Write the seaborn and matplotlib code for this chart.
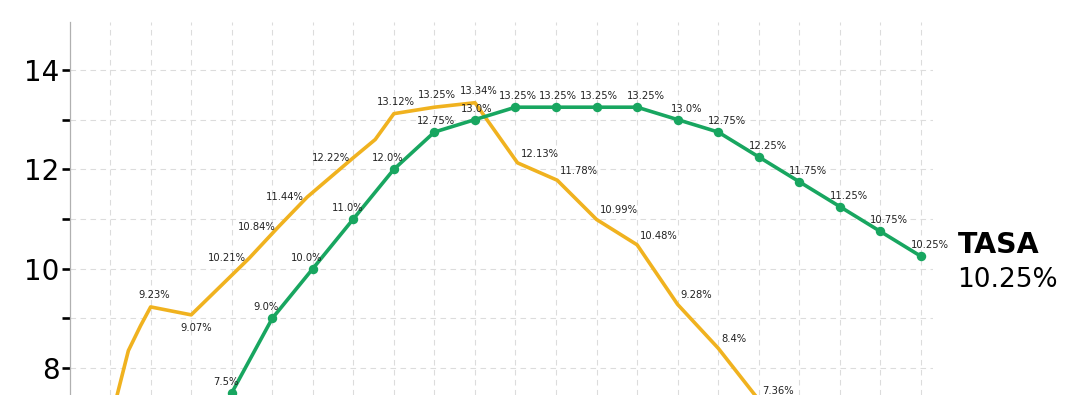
import numpy as np
import pandas as pd
import matplotlib
matplotlib.use("Agg")
import matplotlib.pyplot as plt
import seaborn as sns
from matplotlib.ticker import FixedLocator, NullFormatter

# ---------------- data ----------------
green_period = [2, 3, 4, 5, 6, 7, 8, 9, 10, 11, 12, 13, 14, 15, 16, 17, 18, 19, 20]
green_rate = [6.0, 7.5, 9.0, 10.0, 11.0, 12.0, 12.75, 13.0, 13.25, 13.25, 13.25,
              13.25, 13.0, 12.75, 12.25, 11.75, 11.25, 10.75, 10.25]

yellow_period = [0.0, 0.45, 0.75, 1.0, 2.0, 3.43, 4.15, 4.86, 5.98, 6.54, 7.0, 8.0,
                 9.0, 10.05, 11.03, 12.0, 13.0, 14.0, 15.0, 16.0, 17.0, 18.0]
yellow_value = [6.9, 8.35, 8.85, 9.23, 9.07, 10.21, 10.84, 11.44, 12.22, 12.6, 13.12,
                13.25, 13.34, 12.13, 11.78, 10.99, 10.48, 9.28, 8.4, 7.36, 7.16, 7.18]
yellow_labeled = [False, False, False, True, True, True, True, True, True, False, True,
                  True, True, True, True, True, True, True, True, True, True, True]

major_ticks = [8, 10, 12, 14]
minor_ticks = [9, 11, 13]
grid_periods = list(range(0, 21))

end_title = "TASA"
end_value = "10.25%"

# ---------------- style ----------------
YELLOW = "#F0B21F"
GREEN = "#18A660"
TXT = "#222222"
LABEL_MIN = 7.0  # labels of points far below the visible window are not drawn

sns.set_theme(style="white")
plt.rcParams["font.family"] = ["DejaVu Sans"]

fig = plt.figure(figsize=(10.84, 3.95), dpi=100)
ax = fig.add_axes([70 / 1084, 0.0, (933 - 70) / 1084, 1 - 22 / 395])

df_y = pd.DataFrame({"period": yellow_period, "value": yellow_value})
df_g = pd.DataFrame({"period": green_period, "value": green_rate})

sns.lineplot(data=df_y, x="period", y="value", ax=ax, color=YELLOW, lw=2.6,
             sort=False, zorder=3)
sns.lineplot(data=df_g, x="period", y="value", ax=ax, color=GREEN, lw=2.6,
             marker="o", markersize=6.8, markeredgewidth=0, sort=False, zorder=4)

ax.set_xlim(-0.99, 20.3)
ax.set_ylim(7.457, 14.965)

# grid
for p in grid_periods:
    ax.axvline(p, color="#dcdcdc", lw=0.8, ls=(0, (5, 4)), zorder=1)
for t in major_ticks + minor_ticks:
    ax.axhline(t, color="#dcdcdc", lw=0.8, ls=(0, (5, 4)), zorder=1)

ax.yaxis.set_major_locator(FixedLocator(major_ticks))
ax.yaxis.set_minor_locator(FixedLocator(minor_ticks))
ax.yaxis.set_minor_formatter(NullFormatter())
ax.tick_params(axis="y", which="both", length=6, width=1.9, color="black",
               labelsize=20, pad=1.5, left=True, labelcolor="black")
ax.set_yticklabels([str(t) for t in major_ticks])
ax.set_xticks([])
ax.set_xlabel("")
ax.set_ylabel("")
for s in ["top", "right", "bottom"]:
    ax.spines[s].set_visible(False)
ax.spines["left"].set_color("#b0b0b0")
ax.spines["left"].set_linewidth(0.9)

# green labels
n = len(green_rate)
for i, (p, v) in enumerate(zip(green_period, green_rate)):
    if v < LABEL_MIN:
        continue
    nxt = green_rate[i + 1] if i + 1 < n else None
    if nxt is not None and nxt - v >= 0.5:
        dx = -6
    elif nxt is None or nxt < v:
        dx = 9
    else:
        dx = 2
    ax.annotate(f"{v}%", (p, v), xytext=(dx, 11), textcoords="offset pixels",
                ha="center", va="center", fontsize=7.2, color=TXT, zorder=6,
                annotation_clip=False)

# yellow labels
m = len(yellow_value)
for i, (p, v, lab) in enumerate(zip(yellow_period, yellow_value, yellow_labeled)):
    if not lab or v < LABEL_MIN:
        continue
    prv = yellow_value[i - 1] if i > 0 else None
    nxt = yellow_value[i + 1] if i + 1 < m else None
    if prv is not None and nxt is not None and prv < v and nxt < v and (v - nxt) > 0.1:
        ha, dx, dy = "center", 4, 12          # local max
    elif prv is not None and nxt is not None and prv > v + 0.1 and nxt > v + 0.1:
        ha, dx, dy = "center", 5, -13         # local min
    elif nxt is not None and nxt - v > 0.3:
        ha, dx, dy = "right", -3, 0           # rising
    elif nxt is None or nxt < v or (prv is not None and prv > v):
        ha, dx, dy = "left", 3, 9             # falling / tail
    else:
        ha, dx, dy = "center", 2, 12          # plateau
    ax.annotate(f"{v}%", (p, v), xytext=(dx, dy), textcoords="offset pixels",
                ha=ha, va="center", fontsize=7.2, color=TXT, zorder=6,
                annotation_clip=False)

# end label
fig.text(958 / 1084, 1 - 253 / 395, end_title, fontsize=20.5, fontweight="bold",
         color="black", ha="left", va="baseline")
fig.text(957 / 1084, 1 - 287 / 395, end_value, fontsize=19, color="black",
         ha="left", va="baseline")

fig.savefig("out.png", dpi=100)
